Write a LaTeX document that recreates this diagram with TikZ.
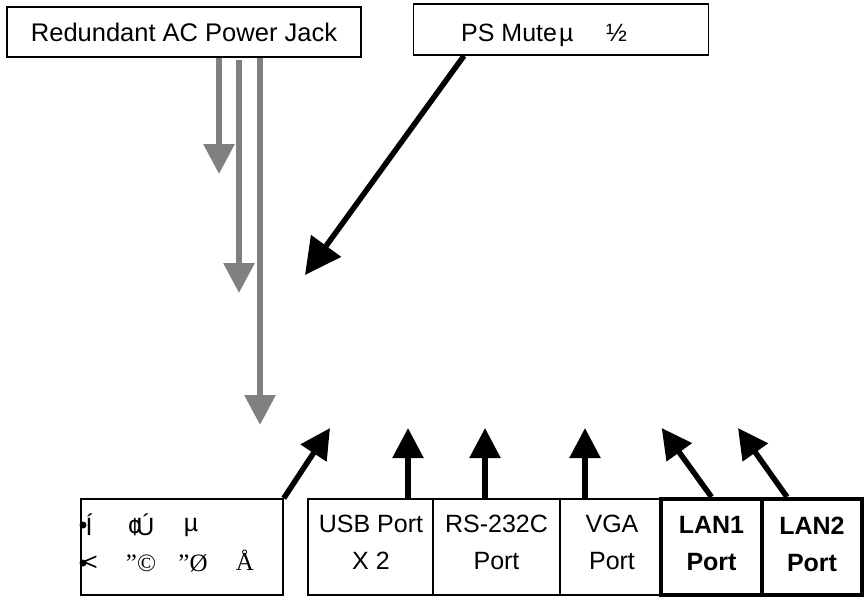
\documentclass[tikz,border=0pt]{standalone}
\usepackage{fontspec}
\setmainfont{Liberation Sans}
\newfontfamily\serifx{Liberation Serif}
\usetikzlibrary{arrows.meta}
\definecolor{arrowgray}{HTML}{808080}
\begin{document}
\begin{tikzpicture}[x=1pt,y=-1pt,
  box/.style={draw, line width=1.5pt, inner sep=0pt},
  thickbox/.style={draw, line width=4pt, inner sep=0pt},
  lbl/.style={font=\fontsize{25}{37}\selectfont, inner sep=0pt, align=center},
  glyph/.style={font=\fontsize{25}{30}\selectfont, inner sep=0pt},
  blk/.style={line width=5.5pt, -{Triangle[length=30pt,width=30pt]}},
  psarrow/.style={line width=5.5pt, -{Triangle[length=36pt,width=36pt]}},
  gry/.style={draw=arrowgray, line width=6pt, -{Triangle[length=30pt,width=30pt,fill=arrowgray]}}
]
\fill[white] (0,0) rectangle (866,599);
\useasboundingbox (0,0) rectangle (866,599);

% top boxes
\node[box, minimum width=354pt, minimum height=50pt] (jack) at (184,32)
  {\fontsize{25.5}{30}\selectfont Redundant AC Power Jack};
\node[box, minimum width=295pt, minimum height=51pt] (ps) at (561,29.5) {};
\node[glyph, anchor=base west] (pstext) at (461,42) {PS Mute};
\node[glyph, anchor=base west] (psmu) at (559,42) {µ};
\node[glyph, anchor=base west] (pshalf) at (606,42) {½};

% bottom boxes
\node[box, minimum width=202pt, minimum height=96pt] (lbox) at (182,547) {};
\node[box, minimum width=125pt, minimum height=96pt] (usb) at (370.5,547) {};
\node[box, minimum width=127pt, minimum height=96pt] (rs) at (496.5,547) {};
\node[box, minimum width=101pt, minimum height=96pt] (vga) at (610.5,547) {};
\node[thickbox, minimum width=101pt, minimum height=96pt] (lan1) at (711.5,547) {};
\node[thickbox, minimum width=100pt, minimum height=96pt] (lan2) at (812,547) {};

\node[lbl] (usbt) at (371,542.5) {USB Port\\X 2};
\node[lbl] (rst) at (496.5,542.5) {RS-232C\\Port};
\node[lbl] (vgat) at (612,542.5) {VGA\\Port};
\node[lbl, font=\fontsize{25}{37}\selectfont\bfseries] (lan1t) at (711.5,544) {LAN1\\Port};
\node[lbl, font=\fontsize{25}{37}\selectfont\bfseries] (lan2t) at (812,544) {LAN2\\Port};

% left box glyphs
\fill (83,525) circle[radius=3.5pt];
\fill (83,563) circle[radius=3.5pt];
\node[glyph] (g1) at (89,525) {Í};
\node[glyph] (g2) at (141,525) {¢\kern-5pt Ú};
\node[glyph] (g3) at (191,527) {µ};
\node[glyph, anchor=west] (g4) at (83,563) {<};
\node[glyph, font=\fontsize{25}{30}\selectfont\serifx] (g5) at (141,563) {”©};
\node[glyph, font=\fontsize{25}{30}\selectfont\serifx] (g6) at (193,563) {”Ø};
\node[glyph, font=\fontsize{25}{30}\selectfont\serifx] (g7) at (245,560) {Å};

% tips
\coordinate (tg1) at (219,174);
\coordinate (tg2) at (239,293);
\coordinate (tg3) at (260,425);
\coordinate (tps) at (305,275);
\coordinate (tl) at (330,428);
\coordinate (tusb) at (408,428);
\coordinate (trs) at (485,428);
\coordinate (tvga) at (585,428);
\coordinate (tlan1) at (661.7,428);
\coordinate (tlan2) at (738,428);

% gray arrows
\draw[gry] ([xshift=35pt]jack.south) -- (tg1);
\draw[gry] ([xshift=55pt,yshift=-2pt]jack.south) -- (tg2);
\draw[gry] ([xshift=76pt]jack.south) -- (tg3);

% black arrows
\draw[psarrow] ([xshift=-97pt]ps.south) -- (tps);
\draw[blk] (lbox.north east) -- (tl);
\draw[blk] ([xshift=37.5pt]usb.north) -- (tusb);
\draw[blk] ([xshift=-11.5pt]rs.north) -- (trs);
\draw[blk] ([xshift=-25.5pt]vga.north) -- (tvga);
\draw[blk] (lan1.north) -- (tlan1);
\draw[blk] ([xshift=-25pt]lan2.north) -- (tlan2);
\end{tikzpicture}
\end{document}
